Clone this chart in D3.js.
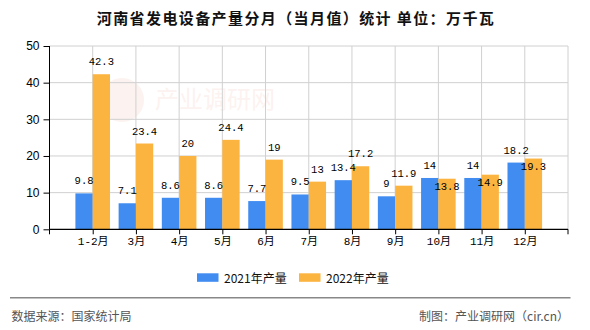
<!DOCTYPE html>
<html><head><meta charset="utf-8">
<script src="https://cdn.jsdelivr.net/npm/d3@7"></script>
<style>body{margin:0;background:#fff}svg{display:block}</style>
</head><body><svg id="c" width="590" height="330"></svg>
<script>
const categories = ["1-2月","3月","4月","5月","6月","7月","8月","9月","10月","11月","12月"];
const series2021 = [9.8,7.1,8.6,8.6,7.7,9.5,13.4,9,14,14,18.2];
const series2022 = [42.3,23.4,20,24.4,19,13,17.2,11.9,13.8,14.9,19.3];
const seriesNames = ["2021年产量","2022年产量"];
const yTicks = [0,10,20,30,40,50];
const colors = ["#418cf0","#fcb441"];
const title = "河南省发电设备产量分月（当月值）统计 单位：万千瓦";

const svg = d3.select("#c");
const L = 49.5, R = 568, T = 46, B = 229.3;
const step = (R - L) / 12;
const x = d3.scalePoint().domain(categories).range([L + step, R - step]);
const y = d3.scaleLinear().domain([0,50]).range([B, T]);
const bw = 17.3;
const cjk = "'Noto Sans CJK SC', sans-serif";
const mono = "'Liberation Mono', 'Noto Sans CJK SC', monospace";

// watermark
const wm = svg.append("g").attr("opacity",0.07);
wm.append("circle").attr("cx",122).attr("cy",100).attr("r",22).attr("fill","#e0502a");
wm.append("text").attr("x",155).attr("y",108).attr("font-family",cjk).attr("font-size",24).attr("fill","#e0502a").text("产业调研网");

// title
svg.append("text").attr("x",296).attr("y",17.5).attr("text-anchor","middle").attr("dominant-baseline","central")
  .attr("font-family",cjk).attr("font-size",15).attr("font-weight","bold").attr("letter-spacing","1.4px").attr("fill","#111").text(title);

// gridlines
const grid = svg.append("g").attr("stroke","#d0d0d0").attr("stroke-width",1);
yTicks.filter(t=>t>0).forEach(t=>grid.append("line").attr("x1",L).attr("x2",R).attr("y1",y(t)).attr("y2",y(t)));
const vpos = [...categories.map(c=>x(c)), R];
vpos.forEach(p=>grid.append("line").attr("x1",p).attr("x2",p).attr("y1",T).attr("y2",B));

// bars
const bars = svg.append("g");
categories.forEach((c,i)=>{
  bars.append("rect").attr("x",x(c)-bw).attr("width",bw).attr("y",y(series2021[i])).attr("height",B-y(series2021[i])).attr("fill",colors[0]);
  bars.append("rect").attr("x",x(c)).attr("width",bw).attr("y",y(series2022[i])).attr("height",B-y(series2022[i])).attr("fill",colors[1]);
});

// axes
const yAxis = d3.axisLeft(y).tickValues(yTicks).tickSize(6).tickPadding(4).tickFormat(d3.format("d"));
const ya = svg.append("g").attr("transform",`translate(${L},0)`).call(yAxis);
ya.select(".domain").attr("stroke","#000").attr("d",`M0,${T}V${B}`);
ya.selectAll("text").attr("font-family","'Liberation Sans', sans-serif").attr("font-size",12).attr("fill","#000");
const xAxis = d3.axisBottom(x).tickSize(5).tickPadding(3);
const xa = svg.append("g").attr("transform",`translate(0,${B})`).call(xAxis);
xa.select(".domain").attr("stroke","#000").attr("stroke-width",1.2).attr("d",`M${L},0H${R}`);
xa.selectAll("text").attr("font-family",mono).attr("font-size",11).attr("fill","#000");
xa.append("line").attr("x1",L).attr("x2",L).attr("y1",0).attr("y2",5).attr("stroke","#000");
xa.append("line").attr("x1",R).attr("x2",R).attr("y1",0).attr("y2",5).attr("stroke","#000");

// data labels
const lab = svg.append("g").attr("font-family",mono).attr("font-size",10.5).attr("fill","#000").attr("text-anchor","middle");
categories.forEach((c,i)=>{
  const yb = y(series2021[i]), yo = y(series2022[i]);
  lab.append("text").attr("x",x(c)-bw/2).attr("y",yb-12).attr("dominant-baseline","central").text(series2021[i]);
  const inside = Math.abs(yb-yo) < 10;
  lab.append("text").attr("x",x(c)+bw/2).attr("y",inside ? yo+8 : yo-12).attr("dominant-baseline","central").text(series2022[i]);
});

// legend
const lg = svg.append("g");
[[197,224],[299,326]].forEach((p,i)=>{
  lg.append("rect").attr("x",p[0]).attr("y",273.3).attr("width",21.5).attr("height",8.5).attr("fill",colors[i]);
  lg.append("text").attr("x",p[1]).attr("y",277.5).attr("dominant-baseline","central").attr("font-family",cjk).attr("font-size",12).attr("fill","#111").text(seriesNames[i]);
});

// footer
svg.append("line").attr("x1",10).attr("x2",570.5).attr("y1",297.7).attr("y2",297.7).attr("stroke","#888").attr("stroke-width",1.5);
svg.append("text").attr("x",11.5).attr("y",315.7).attr("dominant-baseline","central").attr("font-family",cjk).attr("font-size",12).attr("fill","#555").text("数据来源：国家统计局");
svg.append("text").attr("x",569).attr("y",315.7).attr("text-anchor","end").attr("dominant-baseline","central").attr("font-family",cjk).attr("font-size",12).attr("fill","#555").text("制图：产业调研网（cir.cn）");
</script></body></html>
